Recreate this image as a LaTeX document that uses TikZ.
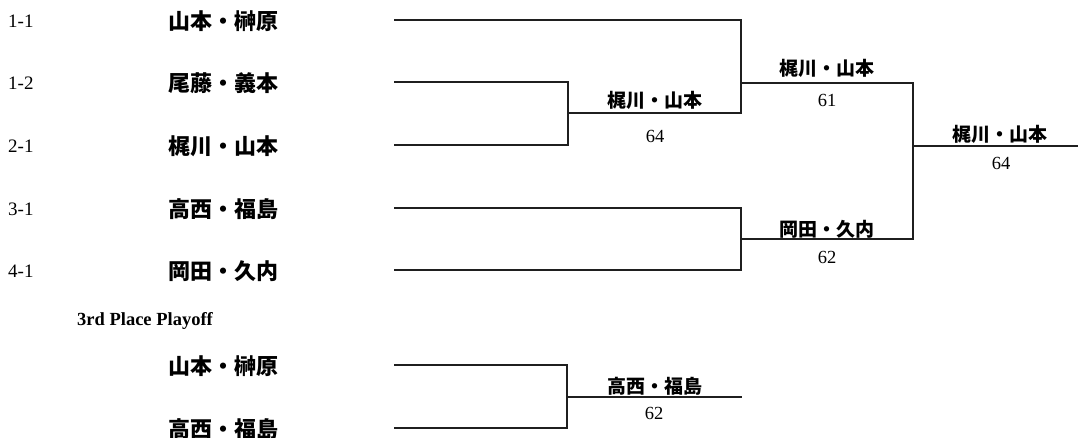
\documentclass[tikz,border=0pt]{standalone}
\usepackage{fontspec}
\setmainfont{Liberation Serif}
\newfontfamily\jp{Noto Sans CJK JP}
\begin{document}
\begin{tikzpicture}[x=1pt,y=-1pt,
  bline/.style={line width=1.6pt,color=black!88,line cap=rect},
  seed/.style={anchor=west,inner sep=0pt,font=\fontsize{19}{19}\selectfont},
  pname/.style={inner sep=0pt,font=\fontsize{22}{22}\selectfont\jp\bfseries},
  wname/.style={inner sep=0pt,font=\fontsize{19}{19}\selectfont\jp\bfseries},
  score/.style={inner sep=0pt,font=\fontsize{18.5}{18.5}\selectfont},
  ttl/.style={anchor=base west,inner sep=0pt,font=\fontsize{18.5}{18.5}\selectfont\bfseries}]
\useasboundingbox (0,0) rectangle (1078,438);
% seeds
\node[seed] (s1) at (8,21) {1-1};
\node[seed] (s2) at (8,83) {1-2};
\node[seed] (s3) at (8,146) {2-1};
\node[seed] (s4) at (8,209) {3-1};
\node[seed] (s5) at (8,271) {4-1};
% player names
\node[pname] (p1) at (223,21) {山本・榊原};
\node[pname] (p2) at (223,83) {尾藤・義本};
\node[pname] (p3) at (223,146) {梶川・山本};
\node[pname] (p4) at (223,209) {高西・福島};
\node[pname] (p5) at (223,271) {岡田・久内};
\node[ttl] (t3) at (77,325) {3rd Place Playoff};
\node[pname] (q1) at (223,366) {山本・榊原};
\node[pname] (q2) at (223,429) {高西・福島};
% line coordinates
\coordinate (a1) at (395,20);  \coordinate (b1) at (741,20);
\coordinate (a2) at (395,82);  \coordinate (b2) at (568,82);
\coordinate (a3) at (395,145); \coordinate (b3) at (568,145);
\coordinate (a4) at (395,208); \coordinate (b4) at (741,208);
\coordinate (a5) at (395,270); \coordinate (b5) at (741,270);
\coordinate (m1a) at (568,113); \coordinate (m1b) at (741,113);
\coordinate (m2a) at (741,83);  \coordinate (m2b) at (913,83);
\coordinate (m3a) at (741,239); \coordinate (m3b) at (913,239);
\coordinate (fa) at (913,146);  \coordinate (fb) at (1080,146);
\coordinate (c1) at (395,365); \coordinate (d1) at (567,365);
\coordinate (c2) at (395,428); \coordinate (d2) at (567,428);
\coordinate (ta) at (567,397); \coordinate (tb) at (741,397);
% bracket lines
\draw[bline] (a1) -- (b1) -- (m1b);
\draw[bline] (a2) -- (b2) -- (b3) -- (a3);
\draw[bline] (m1a) -- (m1b);
\draw[bline] (a4) -- (b4) -- (b5) -- (a5);
\draw[bline] (m2a) -- (m2b) -- (m3b) -- (m3a);
\draw[bline] (fa) -- (fb);
\draw[bline] (c1) -- (d1) -- (d2) -- (c2);
\draw[bline] (ta) -- (tb);
% winners and scores
\node[wname] (w1) at (655,100) {梶川・山本};
\node[score] (r1) at (655,136) {64};
\node[wname] (w2) at (827,68) {梶川・山本};
\node[score] (r2) at (827,100) {61};
\node[wname] (w3) at (827,229) {岡田・久内};
\node[score] (r3) at (827,257) {62};
\node[wname] (w4) at (1000,134) {梶川・山本};
\node[score] (r4) at (1001,163) {64};
\node[wname] (w5) at (655,386) {高西・福島};
\node[score] (r5) at (654,413) {62};
\end{tikzpicture}
\end{document}
